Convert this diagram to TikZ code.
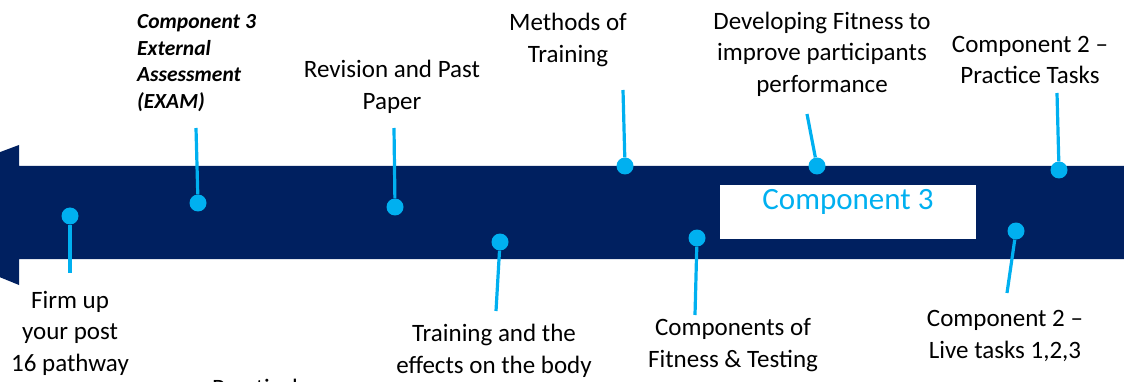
\documentclass[tikz,border=0pt]{standalone}
\usepackage{fontspec}
\setmainfont{Carlito}
\usepackage{tikz}
\usetikzlibrary{positioning}
\definecolor{bandnavy}{HTML}{002060}
\definecolor{pinblue}{HTML}{00B0F0}

\begin{document}
\begin{tikzpicture}[x=1pt, y=-1pt,
	topic/.style={align=center, inner sep=0pt, text=black, font=\fontsize{25}{31.5}\selectfont},
	exam/.style={align=left, inner sep=0pt, text=black, font=\fontsize{21.5}{26.5}\selectfont\bfseries\itshape},
	pindot/.style={circle, fill=pinblue, minimum size=17pt, inner sep=0pt},
	pinline/.style={draw=pinblue, line width=3.2pt}]
	\useasboundingbox (0,0) rectangle (1124,382);
	\clip (0,0) rectangle (1124,382);
	
	% the band, pointing left
	\fill[bandnavy] (-160,212) -- (19,145) -- (19,166) -- (1130,166) -- (1130,259) -- (19,259) -- (19,285) -- cycle;
	\node[fill=white, anchor=north west, minimum width=256pt, minimum height=54pt, inner sep=0pt] (comp) at (720,185) {};
	\node[text=pinblue, font=\fontsize{31}{34}\selectfont, inner sep=0pt] (comptext) at (848,202) {Component 3};
	
	% dots on the band
	\node[pindot] (firm) at (70,216) {};
	\node[pindot] (exam) at (198,203) {};
	\node[pindot] (revision) at (395,207) {};
	\node[pindot] (effects) at (500,242) {};
	\node[pindot] (methods) at (625,166) {};
	\node[pindot] (testing) at (697,238) {};
	\node[pindot] (fitness) at (817,166) {};
	\node[pindot] (live) at (1016,231) {};
	\node[pindot] (practice) at (1059,170) {};
	
	% free ends of the pins
	\coordinate (firmend) at (70,273);
	\coordinate (examend) at (196,128);
	\coordinate (revisionend) at (394,128);
	\coordinate (effectsend) at (496,311);
	\coordinate (methodsend) at (623,90);
	\coordinate (testingend) at (695,315);
	\coordinate (fitnessend) at (807,114);
	\coordinate (liveend) at (1007,293);
	\coordinate (practiceend) at (1057,93);
	
	\draw[pinline] (firm) -- (firmend);
	\draw[pinline] (exam) -- (examend);
	\draw[pinline] (revision) -- (revisionend);
	\draw[pinline] (effects) -- (effectsend);
	\draw[pinline] (methods) -- (methodsend);
	\draw[pinline] (testing) -- (testingend);
	\draw[pinline] (fitness) -- (fitnessend);
	\draw[pinline] (live) -- (liveend);
	\draw[pinline] (practice) -- (practiceend);
	
	% labels
	\node[topic] (firmlabel) at (70,333) {Firm up\\your post\\16 pathway};
	\node[exam, anchor=west] (examlabel) at (137,63) {Component 3\\External\\Assessment\\(EXAM)};
	\node[topic] (revisionlabel) at (392,87) {Revision and Past\\Paper};
	\node[topic] (effectslabel) at (494,351) {Training and the\\effects on the body};
	\node[topic] (methodslabel) at (568,40) {Methods of\\Training};
	\node[topic] (testinglabel) at (733,345) {Components of\\Fitness \& Testing};
	\node[topic] (fitnesslabel) at (822,54) {Developing Fitness to\\improve participants\\performance};
	\node[topic] (livelabel) at (1005,336) {Component 2 --\\Live tasks 1,2,3};
	\node[topic] (practicelabel) at (1030,60) {Component 2 --\\Practice Tasks};
	\node[topic, anchor=base] (practical) at (255,396) {Practical};
\end{tikzpicture}
\end{document}
